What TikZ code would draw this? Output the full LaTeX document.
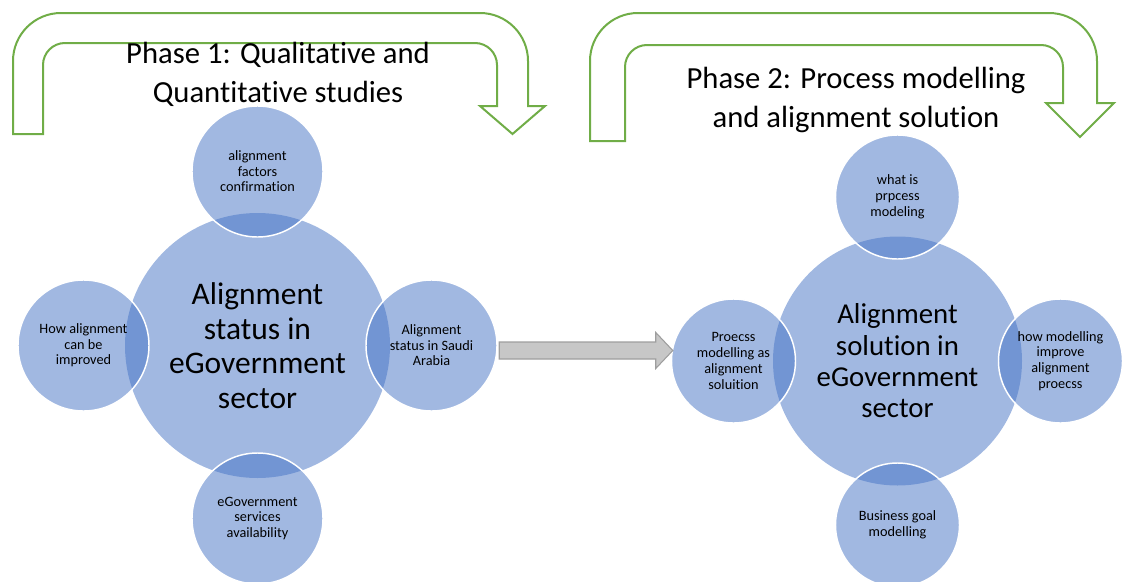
\documentclass[tikz,border=0pt]{standalone}
\usepackage{fontspec}
\setmainfont{Carlito}[Ligatures=NoCommon]
\usetikzlibrary{calc}

\definecolor{hubblue}{HTML}{4472C4}
\definecolor{phasegreen}{HTML}{70AD47}

\begin{document}
\begin{tikzpicture}[x=0.75pt, y=-0.75pt,
  hub/.style={circle, inner sep=0pt, fill=hubblue, fill opacity=0.5, text opacity=1, align=center},
  sat/.style={circle, inner sep=0pt, fill=hubblue, fill opacity=0.5, text opacity=1,
    draw=white, line width=1.1pt, align=center},
  uturn/.style={draw=phasegreen, line width=1.5pt, fill=white},
  phase/.style={align=center, font=\fontsize{23}{29.3}\selectfont},
  blockarrow/.style={fill=black!22, draw=black!38, line width=0.8pt}]
  \useasboundingbox (0,0) rectangle (1122,582);
  % phase arrows
  \draw[uturn] (13,134) -- (13,61) arc[start angle=180, end angle=270, radius=48]
    -- (480,13) arc[start angle=270, end angle=360, radius=48]
    -- (528,106) -- (545,106) -- (512.5,134) -- (480,106) -- (497,106)
    -- (497,65) arc[start angle=0, end angle=-90, radius=22]
    -- (65,43) arc[start angle=270, end angle=180, radius=22] -- (43,134) -- cycle;
  \draw[uturn] (590,141) -- (590,61) arc[start angle=180, end angle=270, radius=48]
    -- (1049,13) arc[start angle=270, end angle=360, radius=48]
    -- (1097,103) -- (1114,103) -- (1080,137) -- (1046,103) -- (1063,103)
    -- (1063,67) arc[start angle=0, end angle=-90, radius=22]
    -- (647,45) arc[start angle=270, end angle=180, radius=22] -- (625,141) -- cycle;
  \node[phase] (ph1) at (278,74) {Phase 1: Qualitative and\\Quantitative studies};
  \node[phase] (ph2) at (856,100) {Phase 2: Process modelling\\and alignment solution};
  % phase 1 circles
  \node[hub, minimum size=198.75pt, font=\fontsize{23.6}{25.9}\selectfont] (lhub) at (257.5,345.5)
    {Alignment\\status in\\eGovernment\\sector};
  \foreach \n/\dx/\dy/\txt in {lnorth/0/-174/{alignment\\factors\\confirmation},
      lwest/-174/0/{How alignment\\can be\\improved},
      least/174/0/{Alignment\\status in Saudi\\Arabia},
      lsouth/0/173/{eGovernment\\services\\availability}} {
    \node[sat, minimum size=98.25pt, font=\fontsize{10.7}{11.6}\selectfont] (\n) at ($(lhub)+(\dx,\dy)$) {\txt};
  }
  % phase 2 circles
  \node[hub, minimum size=186.75pt, font=\fontsize{21.6}{23.5}\selectfont] (rhub) at (897.5,361)
    {Alignment\\solution in\\eGovernment\\sector};
  \foreach \n/\dx/\dy/\txt in {rnorth/0/-164/{what is\\prpcess\\modeling},
      rwest/-164/0/{Proecss\\modelling as\\alignment\\soluition},
      reast/163/0/{how modelling\\improve\\alignment\\proecss},
      rsouth/0/164/{Business goal\\modelling}} {
    \node[sat, minimum size=93pt, font=\fontsize{10.7}{11.8}\selectfont] (\n) at ($(rhub)+(\dx,\dy)$) {\txt};
  }
  % link between the phases
  \coordinate (ashaft) at ($(least.east)+(1.5,5)$);
  \coordinate (atip) at ($(rwest.west |- ashaft)+(2,0)$);
  \draw[blockarrow] ($(ashaft)+(0,-8.5)$) -- ($(atip)+(-17,-8.5)$) -- ($(atip)+(-17,-18)$)
    -- (atip) -- ($(atip)+(-17,18)$) -- ($(atip)+(-17,8.5)$) -- ($(ashaft)+(0,8.5)$) -- cycle;
\end{tikzpicture}
\end{document}
